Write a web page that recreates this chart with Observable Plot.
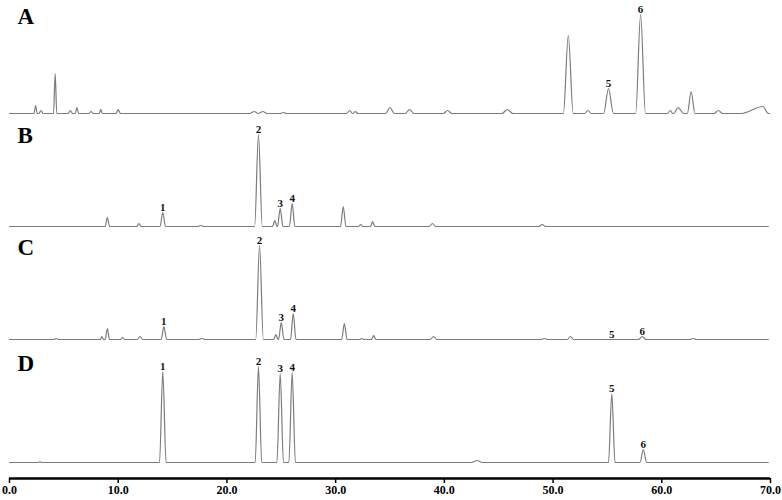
<!DOCTYPE html>
<html>
<head>
<meta charset="utf-8">
<script src="https://cdn.jsdelivr.net/npm/d3@7"></script>
<script src="https://cdn.jsdelivr.net/npm/@observablehq/plot@0.6"></script>
<style>
  html, body { margin: 0; padding: 0; background: #fff; }
  #chart svg { display: block; }
</style>
</head>
<body>
<div id="chart"></div>
<script>
// ---------- DATA ----------
const traceNames = ["A", "B", "C", "D"];

// Trace A: peak retention times (min), heights (response units), half widths (min)
const timesA   = [2.4, 2.9, 4.2, 5.6, 6.2, 7.5, 8.4, 10.0, 22.5, 23.3, 25.2, 31.3, 31.8, 35.0, 36.8, 40.3, 45.8, 51.4, 53.2, 55.1, 58.05, 60.8, 61.5, 62.7, 65.2, 69.3];
const heightsA = [8,   3,   40,  3,   6,   2,   4,   4,    2,    2,    1,    3,    2,    6,    4,    3,    4,    78,   3,    25,   99,    3,    6,    22,   3,    7];
const widthsA  = [0.15,0.2, 0.15,0.2, 0.15,0.2, 0.15,0.2,  0.4,  0.4,  0.3,  0.3,  0.25, 0.4,  0.4,  0.4,  0.5,  0.45, 0.3,  0.45, 0.45,  0.3,  0.5,  0.35, 0.4,  2.0];

// Trace B
const timesB   = [9.0, 11.9, 14.1, 17.6, 22.9, 24.4, 24.9, 26.0, 30.7, 32.3, 33.4, 38.9, 49.0];
const heightsB = [9,   3,    14,   1,    92,   6,    18,   23,   20,   2,    5,    3,    2];
const widthsB  = [0.2, 0.2,  0.25, 0.3,  0.35, 0.2,  0.25, 0.25, 0.25, 0.2,  0.2,  0.3,  0.3];

// Trace C
const timesC   = [4.3, 8.5, 9.0, 10.4, 12.0, 14.2, 17.7, 23.0, 24.5, 25.0, 26.1, 30.8, 32.4, 33.5, 39.0, 49.2, 51.6, 58.2, 62.9];
const heightsC = [1,   3,   11,  2,    3,    13,   1,    94,   5,    17,   26,   16,   1,    4,    3,    1,    3,    3,    1];
const widthsC  = [0.2, 0.15,0.2, 0.2,  0.25, 0.25, 0.3,  0.35, 0.2,  0.25, 0.25, 0.25, 0.2,  0.2,  0.3,  0.3,  0.3,  0.35, 0.3];

// Trace D (standards)
const timesD   = [2.8, 14.1, 22.9, 24.9, 26.0, 43.0, 55.4, 58.3];
const heightsD = [1,   91,   96,   89,   90,   2,    69,   13];
const widthsD  = [0.1, 0.3,  0.3,  0.3,  0.3,  0.5,  0.3,  0.3];

// Numbered compound labels: name, retention time, height of the label anchor
const labelNamesA   = ["5", "6"];
const labelTimesA   = [55.1, 58.05];
const labelHeightsA = [25, 99];

const labelNamesB   = ["1", "2", "3", "4"];
const labelTimesB   = [14.1, 22.9, 24.9, 26.0];
const labelHeightsB = [14, 92, 18, 23];

const labelNamesC   = ["1", "2", "3", "4", "5", "6"];
const labelTimesC   = [14.2, 23.0, 25.0, 26.1, 55.4, 58.2];
const labelHeightsC = [13, 94, 17, 26, 0, 3];

const labelNamesD   = ["1", "2", "3", "4", "5", "6"];
const labelTimesD   = [14.1, 22.9, 24.9, 26.0, 55.4, 58.3];
const labelHeightsD = [91, 96, 89, 90, 69, 13];

// x axis ticks
const tickValues = [0, 10, 20, 30, 40, 50, 60, 70];
const tickLabels = ["0.0", "10.0", "20.0", "30.0", "40.0", "50.0", "60.0", "70.0"];

// ---------- LAYOUT (stacking offsets, not data) ----------
const baselineOffsets = {A: 365, B: 252, C: 139, D: 16};
const letterOffsets   = {A: 97, B: 91, C: 92, D: 99};
const runStart = 0, runEnd = 69.8;

// ---------- BUILD ----------
const peakSets = {
  A: [timesA, heightsA, widthsA],
  B: [timesB, heightsB, widthsB],
  C: [timesC, heightsC, widthsC],
  D: [timesD, heightsD, widthsD]
};
const labelSets = {
  A: [labelNamesA, labelTimesA, labelHeightsA],
  B: [labelNamesB, labelTimesB, labelHeightsB],
  C: [labelNamesC, labelTimesC, labelHeightsC],
  D: [labelNamesD, labelTimesD, labelHeightsD]
};

const linePts = [];
for (const name of traceNames) {
  const [ts, hs, ws] = peakSets[name];
  const off = baselineOffsets[name];
  const pts = [{t: runStart, v: 0}, {t: runEnd, v: 0}];
  ts.forEach((t, i) => {
    pts.push({t: t - ws[i], v: 0}, {t: t, v: hs[i]}, {t: t + ws[i], v: 0});
  });
  pts.sort((a, b) => a.t - b.t);
  for (const p of pts) linePts.push({trace: name, t: p.t, y: off + p.v});
}

const labelPts = [];
for (const name of traceNames) {
  const [ns, ts, hs] = labelSets[name];
  ns.forEach((n, i) => labelPts.push({trace: name, label: n, t: ts[i], y: baselineOffsets[name] + hs[i]}));
}

const letterPts = traceNames.map(n => ({label: n, t: 0, y: baselineOffsets[n] + letterOffsets[n]}));

const chart = Plot.plot({
  width: 782,
  height: 500,
  marginLeft: 9,
  marginRight: 12,
  marginTop: 0,
  marginBottom: 22,
  style: {fontFamily: "'Liberation Serif', 'Times New Roman', serif", background: "#fff"},
  x: {domain: [0, 70], label: null},
  y: {domain: [0, 478], axis: null},
  marks: [
    Plot.line(linePts, {x: "t", y: "y", z: "trace", curve: "monotone-x", stroke: "#7c7c7c", strokeWidth: 1.2, clip: true}),
    Plot.text(labelPts, {x: "t", y: "y", text: "label", lineAnchor: "bottom", dy: -2, fontSize: 11, fontWeight: "bold", fill: "#111"}),
    Plot.text(letterPts, {x: "t", y: "y", text: "label", textAnchor: "start", dx: 8, fontSize: 23, fontWeight: "bold", fill: "#000"}),
    Plot.ruleY([0], {stroke: "#000", strokeWidth: 2.5}),
    Plot.axisX({ticks: tickValues, tickFormat: (d) => tickLabels[tickValues.indexOf(d)], tickSize: 5, tickPadding: 2, fontSize: 12, fontWeight: "bold", stroke: "#000", strokeWidth: 1.5, fill: "#000", label: null})
  ]
});
document.getElementById("chart").appendChild(chart);
</script>
</body>
</html>
